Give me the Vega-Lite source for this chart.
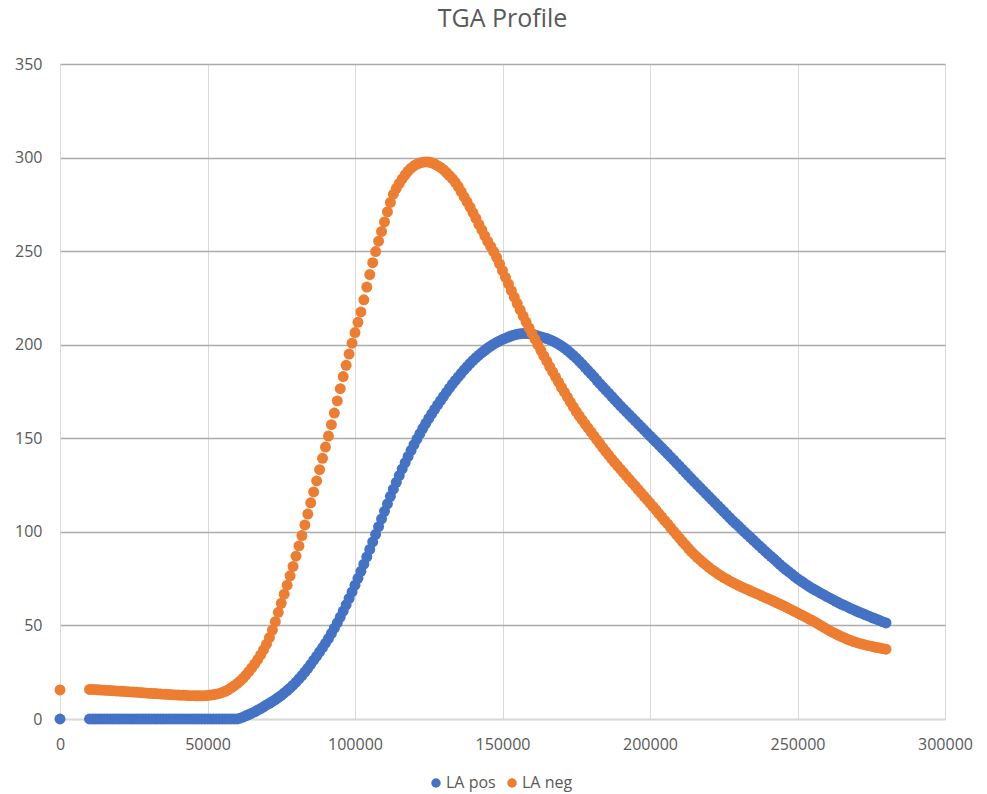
{
  "$schema": "https://vega.github.io/schema/vega-lite/v6.json",
  "autosize": {"type": "none"},
  "width": 885,
  "height": 655,
  "padding": {"left": 60, "top": 64, "right": 42, "bottom": 75},
  "background": "white",
  "title": {"text": "TGA Profile", "font": "Open Sans", "fontSize": 25, "fontWeight": "normal", "color": "#595959", "baseline": "alphabetic", "frame": "group", "anchor": "middle", "offset": 4},
  "data": {"values": [
    {"x":0,"p":0,"n":15.5},
    {"x":10000,"p":0,"n":15.8},{"x":11000,"p":0,"n":15.8},{"x":12000,"p":0,"n":15.7},{"x":13000,"p":0,"n":15.6},{"x":14000,"p":0,"n":15.5},
    {"x":15000,"p":0,"n":15.4},{"x":16000,"p":0,"n":15.3},{"x":17000,"p":0,"n":15.2},{"x":18000,"p":0,"n":15.1},{"x":19000,"p":0,"n":15.0},
    {"x":20000,"p":0,"n":14.9},{"x":21000,"p":0,"n":14.8},{"x":22000,"p":0,"n":14.7},{"x":23000,"p":0,"n":14.6},{"x":24000,"p":0,"n":14.5},
    {"x":25000,"p":0,"n":14.4},{"x":26000,"p":0,"n":14.3},{"x":27000,"p":0,"n":14.2},{"x":28000,"p":0,"n":14.0},{"x":29000,"p":0,"n":13.9},
    {"x":30000,"p":0,"n":13.8},{"x":31000,"p":0,"n":13.7},{"x":32000,"p":0,"n":13.6},{"x":33000,"p":0,"n":13.5},{"x":34000,"p":0,"n":13.4},
    {"x":35000,"p":0,"n":13.3},{"x":36000,"p":0,"n":13.2},{"x":37000,"p":0,"n":13.1},{"x":38000,"p":0,"n":13.0},{"x":39000,"p":0,"n":12.9},
    {"x":40000,"p":0,"n":12.8},{"x":41000,"p":0,"n":12.7},{"x":42000,"p":0,"n":12.7},{"x":43000,"p":0,"n":12.6},{"x":44000,"p":0,"n":12.5},
    {"x":45000,"p":0,"n":12.5},{"x":46000,"p":0,"n":12.4},{"x":47000,"p":0,"n":12.4},{"x":48000,"p":0,"n":12.4},{"x":49000,"p":0,"n":12.5},
    {"x":50000,"p":0,"n":12.6},{"x":51000,"p":0,"n":12.8},{"x":52000,"p":0,"n":13.0},{"x":53000,"p":0,"n":13.3},{"x":54000,"p":0,"n":13.7},
    {"x":55000,"p":0,"n":14.2},{"x":56000,"p":0,"n":14.8},{"x":57000,"p":0,"n":15.6},{"x":58000,"p":0,"n":16.6},{"x":59000,"p":0,"n":17.7},
    {"x":60000,"p":0,"n":18.9},{"x":61000,"p":0.4,"n":20.2},{"x":62000,"p":1.0,"n":21.7},{"x":63000,"p":1.7,"n":23.4},{"x":64000,"p":2.4,"n":25.3},
    {"x":65000,"p":3.1,"n":27.3},{"x":66000,"p":3.8,"n":29.4},{"x":67000,"p":4.7,"n":31.7},{"x":68000,"p":5.6,"n":34.2},{"x":69000,"p":6.5,"n":37.0},
    {"x":70000,"p":7.5,"n":40.0},{"x":71000,"p":8.4,"n":43.5},{"x":72000,"p":9.4,"n":47.5},{"x":73000,"p":10.4,"n":52.0},{"x":74000,"p":11.5,"n":57.0},
    {"x":75000,"p":12.6,"n":61.8},{"x":76000,"p":13.9,"n":66.7},{"x":77000,"p":15.2,"n":71.5},{"x":78000,"p":16.6,"n":76.5},{"x":79000,"p":18.1,"n":81.5},
    {"x":80000,"p":19.7,"n":87.0},{"x":81000,"p":21.4,"n":92.5},{"x":82000,"p":23.2,"n":98.0},{"x":83000,"p":25.1,"n":103.7},{"x":84000,"p":27.1,"n":109.5},
    {"x":85000,"p":29.2,"n":115.5},{"x":86000,"p":31.4,"n":121.3},{"x":87000,"p":33.6,"n":127.2},{"x":88000,"p":35.9,"n":133.2},{"x":89000,"p":38.2,"n":139.3},
    {"x":90000,"p":40.5,"n":145.3},{"x":91000,"p":43.0,"n":151.2},{"x":92000,"p":45.7,"n":157.3},{"x":93000,"p":48.5,"n":163.5},{"x":94000,"p":51.4,"n":170.0},
    {"x":95000,"p":54.5,"n":176.5},{"x":96000,"p":57.7,"n":183.0},{"x":97000,"p":61.0,"n":189.0},{"x":98000,"p":64.4,"n":195.0},{"x":99000,"p":67.9,"n":200.8},
    {"x":100000,"p":71.5,"n":206.5},{"x":101000,"p":75.2,"n":212.0},{"x":102000,"p":78.9,"n":217.5},{"x":103000,"p":82.7,"n":224.0},{"x":104000,"p":86.6,"n":230.8},
    {"x":105000,"p":90.6,"n":237.5},{"x":106000,"p":94.6,"n":243.8},{"x":107000,"p":98.7,"n":249.8},{"x":108000,"p":102.8,"n":255.3},{"x":109000,"p":106.9,"n":260.5},
    {"x":110000,"p":111.0,"n":265.6},{"x":111000,"p":115.0,"n":271.0},{"x":112000,"p":119.0,"n":276.0},{"x":113000,"p":122.8,"n":280.4},{"x":114000,"p":126.5,"n":283.6},
    {"x":115000,"p":130.1,"n":286.2},{"x":116000,"p":133.6,"n":288.6},{"x":117000,"p":137.0,"n":290.8},{"x":118000,"p":140.3,"n":292.8},{"x":119000,"p":143.5,"n":294.3},
    {"x":120000,"p":146.6,"n":295.6},{"x":121000,"p":149.6,"n":296.5},{"x":122000,"p":152.5,"n":297.1},{"x":123000,"p":155.3,"n":297.5},{"x":124000,"p":158.0,"n":297.7},
    {"x":125000,"p":160.6,"n":297.6},{"x":126000,"p":163.1,"n":297.2},{"x":127000,"p":165.5,"n":296.6},{"x":128000,"p":167.8,"n":295.7},{"x":129000,"p":170.1,"n":294.7},
    {"x":130000,"p":172.4,"n":293.5},{"x":131000,"p":174.6,"n":292.0},{"x":132000,"p":176.8,"n":290.4},{"x":133000,"p":178.9,"n":288.7},{"x":134000,"p":180.9,"n":286.8},
    {"x":135000,"p":182.8,"n":284.5},{"x":136000,"p":184.7,"n":281.8},{"x":137000,"p":186.5,"n":279.0},{"x":138000,"p":188.3,"n":276.3},{"x":139000,"p":190.0,"n":273.5},
    {"x":140000,"p":191.6,"n":270.5},{"x":141000,"p":193.1,"n":267.5},{"x":142000,"p":194.5,"n":264.3},{"x":143000,"p":195.8,"n":261.3},{"x":144000,"p":197.0,"n":258.2},
    {"x":145000,"p":198.2,"n":255.2},{"x":146000,"p":199.3,"n":252.5},{"x":147000,"p":200.3,"n":249.8},{"x":148000,"p":201.2,"n":246.7},{"x":149000,"p":202.0,"n":243.2},
    {"x":150000,"p":202.8,"n":239.6},{"x":151000,"p":203.5,"n":236.0},{"x":152000,"p":204.1,"n":232.5},{"x":153000,"p":204.7,"n":228.9},{"x":154000,"p":205.2,"n":225.4},
    {"x":155000,"p":205.6,"n":222.0},{"x":156000,"p":205.9,"n":218.6},{"x":157000,"p":206.0,"n":215.3},{"x":158000,"p":206.0,"n":212.1},{"x":159000,"p":205.9,"n":209.0},
    {"x":160000,"p":205.6,"n":206.0},{"x":161000,"p":205.2,"n":203.0},{"x":162000,"p":204.7,"n":200.0},{"x":163000,"p":204.2,"n":197.0},{"x":164000,"p":203.8,"n":194.0},
    {"x":165000,"p":203.3,"n":191.2},{"x":166000,"p":202.7,"n":188.3},{"x":167000,"p":202.0,"n":185.5},{"x":168000,"p":201.2,"n":182.7},{"x":169000,"p":200.3,"n":180.0},
    {"x":170000,"p":199.3,"n":177.2},{"x":171000,"p":198.2,"n":174.6},{"x":172000,"p":197.0,"n":172.0},{"x":173000,"p":195.7,"n":169.3},{"x":174000,"p":194.3,"n":166.8},
    {"x":175000,"p":192.8,"n":164.3},{"x":176000,"p":191.2,"n":162.0},{"x":177000,"p":189.6,"n":159.8},{"x":178000,"p":187.9,"n":157.6},{"x":179000,"p":186.2,"n":155.5},
    {"x":180000,"p":184.5,"n":153.4},{"x":181000,"p":182.8,"n":151.3},{"x":182000,"p":181.0,"n":149.2},{"x":183000,"p":179.2,"n":147.1},{"x":184000,"p":177.5,"n":145.0},
    {"x":185000,"p":175.8,"n":143.0},{"x":186000,"p":174.1,"n":141.0},{"x":187000,"p":172.4,"n":139.0},{"x":188000,"p":170.7,"n":137.1},{"x":189000,"p":169.0,"n":135.3},
    {"x":190000,"p":167.3,"n":133.5},{"x":191000,"p":165.7,"n":131.7},{"x":192000,"p":164.1,"n":129.8},{"x":193000,"p":162.5,"n":128.0},{"x":194000,"p":160.9,"n":126.2},
    {"x":195000,"p":159.3,"n":124.5},{"x":196000,"p":157.7,"n":122.6},{"x":197000,"p":156.1,"n":120.8},{"x":198000,"p":154.5,"n":119.0},{"x":199000,"p":152.9,"n":117.2},
    {"x":200000,"p":151.3,"n":115.4},{"x":201000,"p":149.7,"n":113.6},{"x":202000,"p":148.1,"n":111.7},{"x":203000,"p":146.5,"n":109.8},{"x":204000,"p":144.9,"n":107.9},
    {"x":205000,"p":143.3,"n":106.0},{"x":206000,"p":141.7,"n":104.2},{"x":207000,"p":140.0,"n":102.3},{"x":208000,"p":138.4,"n":100.4},{"x":209000,"p":136.7,"n":98.5},
    {"x":210000,"p":135.1,"n":96.6},{"x":211000,"p":133.4,"n":94.8},{"x":212000,"p":131.8,"n":93.0},{"x":213000,"p":130.1,"n":91.2},{"x":214000,"p":128.5,"n":89.5},
    {"x":215000,"p":126.8,"n":87.9},{"x":216000,"p":125.2,"n":86.4},{"x":217000,"p":123.6,"n":85.0},{"x":218000,"p":122.0,"n":83.6},{"x":219000,"p":120.4,"n":82.3},
    {"x":220000,"p":118.8,"n":81.0},{"x":221000,"p":117.2,"n":79.8},{"x":222000,"p":115.6,"n":78.7},{"x":223000,"p":114.0,"n":77.6},{"x":224000,"p":112.4,"n":76.6},
    {"x":225000,"p":110.8,"n":75.6},{"x":226000,"p":109.2,"n":74.7},{"x":227000,"p":107.6,"n":73.8},{"x":228000,"p":106.0,"n":73.0},{"x":229000,"p":104.5,"n":72.2},
    {"x":230000,"p":103.0,"n":71.4},{"x":231000,"p":101.5,"n":70.6},{"x":232000,"p":100.0,"n":69.9},{"x":233000,"p":98.5,"n":69.2},{"x":234000,"p":97.1,"n":68.5},
    {"x":235000,"p":95.6,"n":67.8},{"x":236000,"p":94.1,"n":67.1},{"x":237000,"p":92.6,"n":66.4},{"x":238000,"p":91.2,"n":65.7},{"x":239000,"p":89.7,"n":65.0},
    {"x":240000,"p":88.3,"n":64.3},{"x":241000,"p":86.9,"n":63.6},{"x":242000,"p":85.5,"n":62.9},{"x":243000,"p":84.1,"n":62.1},{"x":244000,"p":82.6,"n":61.4},
    {"x":245000,"p":81.2,"n":60.7},{"x":246000,"p":80.0,"n":59.9},{"x":247000,"p":78.7,"n":59.1},{"x":248000,"p":77.5,"n":58.3},{"x":249000,"p":76.2,"n":57.5},
    {"x":250000,"p":75.0,"n":56.7},{"x":251000,"p":73.9,"n":55.9},{"x":252000,"p":72.9,"n":55.1},{"x":253000,"p":71.8,"n":54.3},{"x":254000,"p":70.8,"n":53.4},
    {"x":255000,"p":69.8,"n":52.6},{"x":256000,"p":68.9,"n":51.7},{"x":257000,"p":68.0,"n":50.8},{"x":258000,"p":67.1,"n":49.9},{"x":259000,"p":66.3,"n":48.9},
    {"x":260000,"p":65.4,"n":48.0},{"x":261000,"p":64.6,"n":47.1},{"x":262000,"p":63.8,"n":46.3},{"x":263000,"p":62.9,"n":45.5},{"x":264000,"p":62.1,"n":44.7},
    {"x":265000,"p":61.3,"n":44.0},{"x":266000,"p":60.6,"n":43.3},{"x":267000,"p":59.9,"n":42.6},{"x":268000,"p":59.1,"n":42.0},{"x":269000,"p":58.4,"n":41.4},
    {"x":270000,"p":57.7,"n":40.9},{"x":271000,"p":57.0,"n":40.4},{"x":272000,"p":56.4,"n":40.0},{"x":273000,"p":55.7,"n":39.6},{"x":274000,"p":55.1,"n":39.2},
    {"x":275000,"p":54.4,"n":38.9},{"x":276000,"p":53.8,"n":38.5},{"x":277000,"p":53.2,"n":38.2},{"x":278000,"p":52.5,"n":37.9},{"x":279000,"p":51.9,"n":37.6},
    {"x":280000,"p":51.3,"n":37.3}
  ]},
  "encoding": {
    "x": {"field": "x", "type": "quantitative", "scale": {"domain": [0, 300000], "nice": false, "zero": false},
      "axis": {"title": null, "values": [0, 50000, 100000, 150000, 200000, 250000, 300000], "format": "d", "ticks": false, "labelFlush": false, "domainColor": "#d9d9d9", "gridColor": "#d9d9d9", "labelPadding": 17}}
  },
  "layer": [
    {
      "transform": [{"filter": "isValid(datum.p)"}],
      "mark": {"type": "point", "filled": true, "size": 120, "opacity": 1},
      "encoding": {
        "y": {"field": "p", "type": "quantitative", "scale": {"domain": [0, 350], "nice": false},
          "axis": {"title": null, "values": [0, 50, 100, 150, 200, 250, 300, 350], "ticks": false, "labelFlush": false, "domainColor": "#d9d9d9", "gridColor": "#ababab", "gridWidth": 1.3, "labelPadding": 18}},
        "color": {"datum": "LA pos", "type": "nominal", "scale": {"domain": ["LA pos", "LA neg"], "range": ["#4472C4", "#ED7D31"]},
          "legend": {"orient": "none", "legendX": 368, "legendY": 711, "direction": "horizontal", "title": null, "symbolType": "circle", "symbolSize": 90, "symbolOpacity": 1, "labelFont": "Open Sans", "labelFontSize": 16, "labelColor": "#595959", "labelOffset": 2, "columnPadding": 8}}
      }
    },
    {
      "transform": [{"filter": "isValid(datum.n)"}],
      "mark": {"type": "point", "filled": true, "size": 120, "opacity": 1},
      "encoding": {
        "y": {"field": "n", "type": "quantitative"},
        "color": {"datum": "LA neg", "type": "nominal"}
      }
    }
  ],
  "config": {
    "view": {"stroke": null},
    "axis": {"labelFont": "Open Sans", "labelFontSize": 16, "labelColor": "#595959", "domainWidth": 1, "gridWidth": 1}
  }
}
